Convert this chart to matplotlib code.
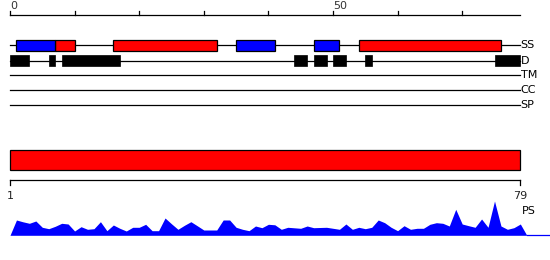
import matplotlib
matplotlib.use("Agg")
import matplotlib.pyplot as plt
from matplotlib.patches import Rectangle

# ---- data ----
seq_len = 79
top_ticks = [0, 10, 20, 30, 40, 50, 60, 70]
top_tick_labels = {0: "0", 50: "50"}
track_labels = ["SS", "D", "TM", "CC", "SP"]
ss_red = [(7, 10), (16, 32), (54, 76)]
ss_blue = [(1, 7), (35, 41), (47, 51)]
disorder = [(0, 3), (6, 7), (8, 17), (44, 46), (47, 49), (50, 52), (55, 56), (75, 79)]
domain_bar = [(0, 79)]
bottom_tick_labels = ["1", "79"]
ps_values = [15.3, 13.5, 12, 14.3, 8, 6.6, 9, 12, 11.3, 4.3,
             8.6, 6, 6.6, 13.6, 4.6, 10.3, 7, 4.3, 8, 8,
             11, 4.6, 4.6, 17.3, 11.5, 6, 10, 13.6, 9.5, 5.3,
             5.3, 5.3, 15.3, 15.3, 8, 6, 4.6, 9.3, 7.6, 11,
             10.5, 6, 8, 7.5, 7, 9.3, 7.6, 7.8, 8, 7,
             6, 11.3, 6, 8, 6.6, 8, 15.3, 12.6, 8, 4.6,
             9.6, 6, 7, 7, 11, 12.6, 12, 9.3, 26, 11.3,
             9.6, 8, 16.3, 8, 34.3, 9.3, 6, 7.6, 11.3]

# ---- layout (y in pixel-like units, top = 0) ----
S = 6.46  # px per residue
fig = plt.figure(figsize=(5.5, 2.6), dpi=100)
ax = fig.add_axes([0, 0, 1, 1])
ax.set_xlim(-10 / S, 540 / S)
ax.set_ylim(260, 0)
ax.axis("off")

lw = 0.9
fs = 8
# top ruler
ax.plot([0, seq_len], [15, 15], color="black", lw=lw)
for t in top_ticks:
    ax.plot([t, t], [15, 11], color="black", lw=lw)
    if t in top_tick_labels:
        ax.text(t + 0.1, 6, top_tick_labels[t], fontsize=fs, color="#333333",
                ha="left", va="center")

# tracks
track_y = [45, 60.5, 75, 90, 105]
for lab, y in zip(track_labels, track_y):
    ax.plot([0, seq_len], [y, y], color="black", lw=lw, zorder=1)
    ax.text(seq_len + 0.05, y, lab, fontsize=fs, ha="left", va="center")

for (a, b) in ss_red:
    ax.add_patch(Rectangle((a, 40.3), b - a, 10.4, facecolor="#ff0000",
                           edgecolor="black", lw=lw, zorder=3))
for (a, b) in ss_blue:
    ax.add_patch(Rectangle((a, 40.3), b - a, 10.4, facecolor="#0000ff",
                           edgecolor="black", lw=lw, zorder=3))
for (a, b) in disorder:
    ax.add_patch(Rectangle((a, 55), b - a, 11, facecolor="black",
                           edgecolor="black", lw=0.5, zorder=3))

# domain bar
for (a, b) in domain_bar:
    ax.add_patch(Rectangle((a, 150.3), b - a, 20, facecolor="#ff0000",
                           edgecolor="black", lw=lw, zorder=3))

# bottom ruler
ax.plot([0, seq_len], [180.3, 180.3], color="black", lw=lw)
for t, lab in zip([0, seq_len], bottom_tick_labels):
    ax.plot([t, t], [180.3, 185], color="black", lw=lw)
    ax.text(t, 196, lab, fontsize=fs, color="#222222", ha="center", va="center")

# PS profile
base = 235.3
xs = [0] + list(range(1, seq_len + 1)) + [seq_len + 1]
ys = [base] + [base - v for v in ps_values] + [base]
ax.fill_between(xs, base, ys, color="#0000ff", lw=0)
ax.plot([seq_len + 1, 540 / S], [base, base], color="#0000ff", lw=lw)
ax.text(seq_len + 0.25, 211, "PS", fontsize=fs, ha="left", va="center")

fig.savefig("out.png", dpi=100)
